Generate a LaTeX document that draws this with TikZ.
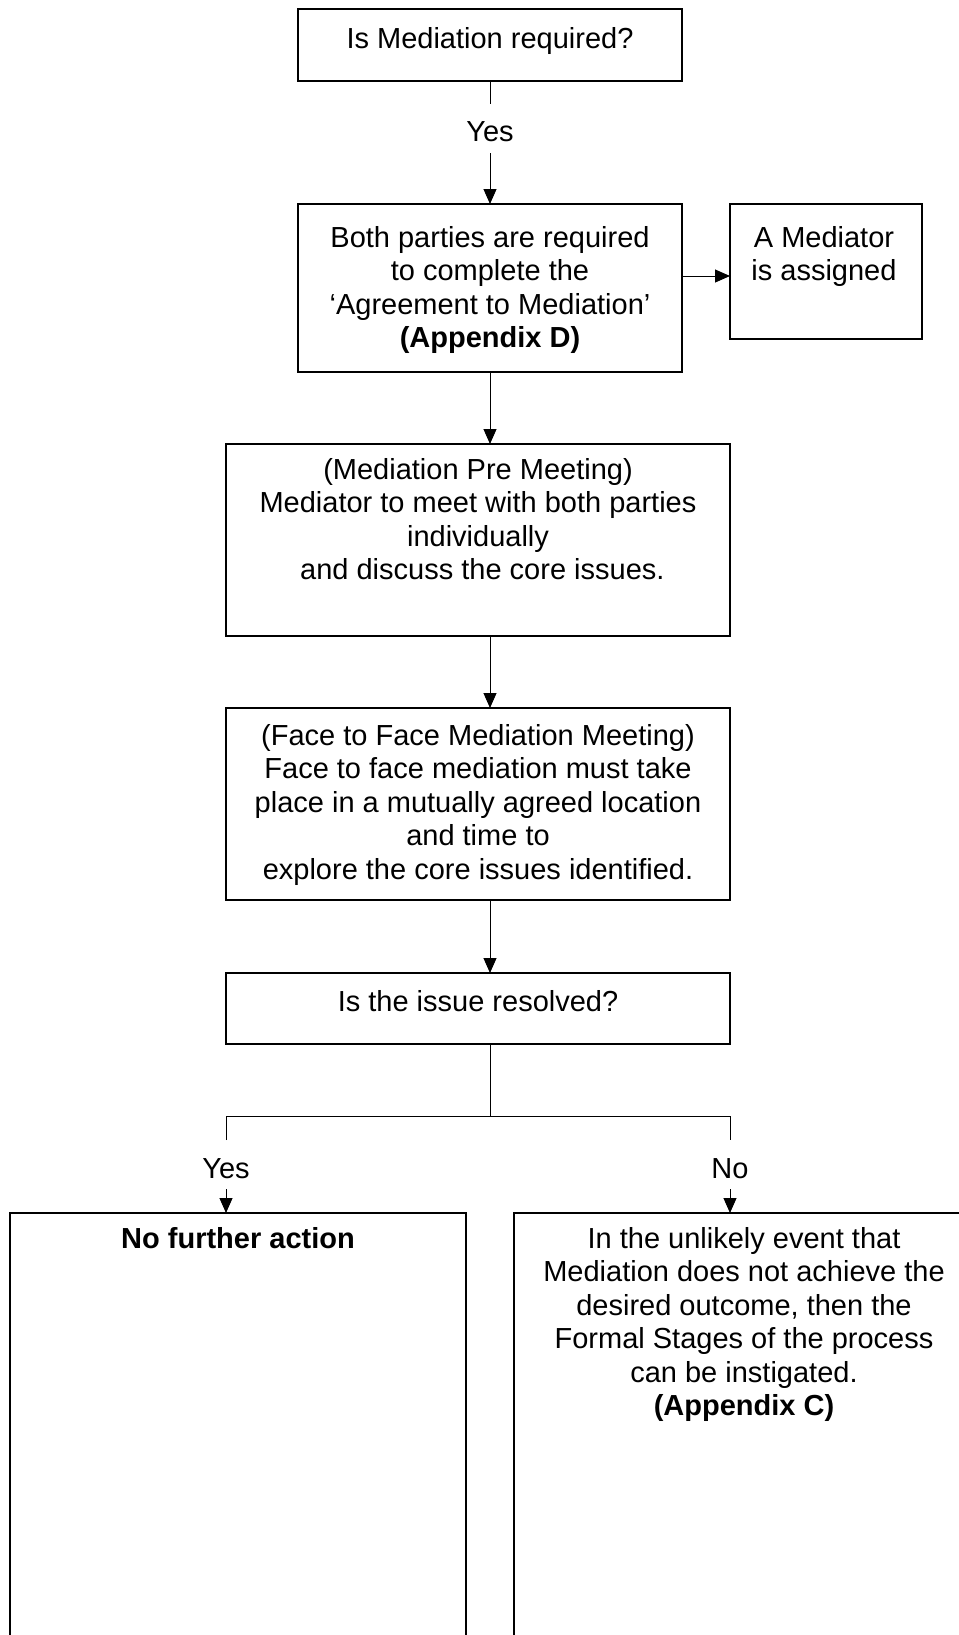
\documentclass[tikz,border=0pt]{standalone}
\usepackage{fontspec}
\setmainfont{Liberation Sans}
\usetikzlibrary{arrows.meta}
\newcommand{\fl}{\rule{0pt}{12pt}}
\begin{document}
\begin{tikzpicture}[x=0.5pt,y=-0.5pt,
  box/.style={draw, line width=1pt, inner sep=0pt, outer sep=0pt},
  txt/.style={anchor=north, align=center, inner sep=0pt, font=\fontsize{14.5pt}{16.75pt}\selectfont},
  lbl/.style={anchor=base, inner sep=0pt, font=\fontsize{14.5pt}{16.75pt}\selectfont},
  conn/.style={line width=0.5pt},
  arr/.style={line width=0.5pt, -{Triangle[length=7.5pt,width=6.5pt]}}]
\useasboundingbox (0,0) rectangle (959,1635);
\clip (0,0) rectangle (959,1635);
% boxes
\node[box, minimum width=192pt, minimum height=36pt] (q1) at (490,45) {};
\node[box, minimum width=192pt, minimum height=84pt] (q2) at (490,288) {};
\node[box, minimum width=96pt, minimum height=67.5pt] (med) at (826,271.5) {};
\node[box, minimum width=252pt, minimum height=96pt] (q3) at (478,540) {};
\node[box, minimum width=252pt, minimum height=96pt] (q4) at (478,804) {};
\node[box, minimum width=252pt, minimum height=35.5pt] (q5) at (478,1008.5) {};
\node[box, minimum width=228pt, minimum height=243.5pt] (lft) at (238,1456.5) {};
\node[box, minimum width=233pt, minimum height=243.5pt] (rgt) at (747,1456.5) {};
% texts
\node[txt] (q1t) at (490,24) {\fl Is Mediation required?};
\node[txt] (q2t) at (490,223) {\fl Both parties are required\\to complete the\\‘Agreement to Mediation’\\\textbf{(Appendix D)}};
\node[txt] (medt) at (824,223) {\fl A Mediator\\is assigned};
\node[txt] (q3t) at (478,455) {\fl (Mediation Pre Meeting)\\Mediator to meet with both parties\\individually\hspace*{0.3em}\\\hspace*{0.3em}and discuss the core issues.};
\node[txt] (q4t) at (478,721) {\fl (Face to Face Mediation Meeting)\\Face to face mediation must take\\place in a mutually agreed location\\and time to\\explore the core issues identified.};
\node[txt] (q5t) at (478,987) {\fl Is the issue resolved?};
\node[txt] (lftt) at (238,1224) {\fl \textbf{No further action}};
\node[txt] (rgtt) at (744,1224) {\fl In the unlikely event that\\Mediation does not achieve the\\desired outcome, then the\\Formal Stages of the process\\can be instigated.\\\textbf{(Appendix C)}};
% labels
\node[lbl] (yes1) at (490,141) {Yes};
\node[lbl] (yes2) at (226,1178) {Yes};
\node[lbl] (no) at (730,1178) {No};
% helper coordinates
\coordinate (ya) at (490,104);
\coordinate (yb) at (490,153);
\coordinate (mw) at ([yshift=-2.25pt]med.west);
\coordinate (br) at (490,1116);
\coordinate (bl) at (226,1116);
\coordinate (bre) at (730,1116);
\coordinate (la) at (226,1140);
\coordinate (ra) at (730,1140);
\coordinate (lb) at (226,1189);
\coordinate (rb) at (730,1189);
% connectors
\draw[conn] (q1.south) -- (ya);
\draw[arr] (yb) -- (q2.north);
\draw[arr] (q2.east |- mw) -- (mw);
\draw[arr] (q2.south) -- (q2.south |- q3.north);
\draw[arr] (q2.south |- q3.south) -- (q2.south |- q4.north);
\draw[arr] (q2.south |- q4.south) -- (q2.south |- q5.north);
\draw[conn] (q2.south |- q5.south) -- (br);
\draw[conn] (la) -- (bl) -- (bre) -- (ra);
\draw[arr] (lb) -- (lb |- lft.north);
\draw[arr] (rb) -- (rb |- rgt.north);
\end{tikzpicture}
\end{document}
